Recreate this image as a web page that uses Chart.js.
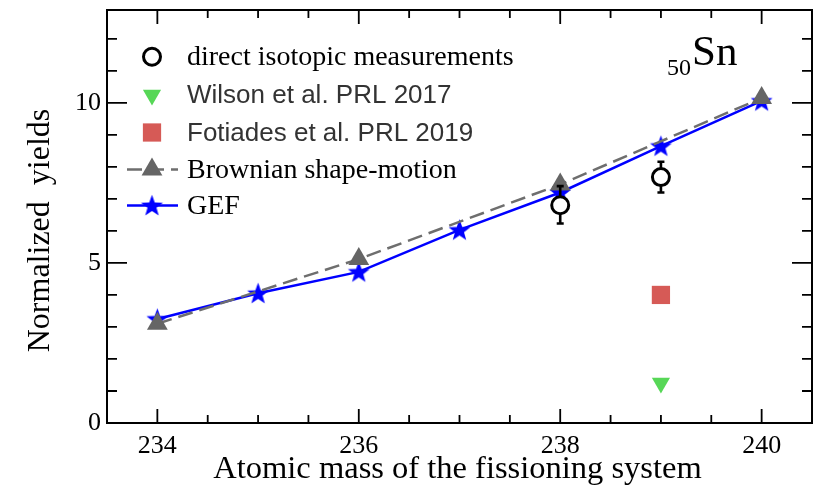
<!DOCTYPE html>
<html>
<head>
<meta charset="utf-8">
<script src="https://cdn.jsdelivr.net/npm/chart.js@4/dist/chart.umd.min.js"></script>
<style>
  html, body { margin: 0; padding: 0; background: #ffffff; }
  #wrap { width: 826px; height: 490px; }
</style>
</head>
<body>
<div id="wrap"><canvas id="c" width="826" height="490"></canvas></div>
<script>
// ---- data ----
const gefMass = [234, 235, 236, 237, 238, 239, 240];
const gefYield = [3.25, 4.05, 4.72, 6.03, 7.2, 8.65, 10.06];

const brownMass = [234, 236, 238, 240];
const brownYield = [3.1, 5.12, 7.45, 10.15];

const measMass = [238, 239];
const measYield = [6.8, 7.68];
const measLow = [6.23, 7.2];
const measHigh = [7.4, 8.16];

const wilsonMass = [239];
const wilsonYield = [1.25];

const fotiadesMass = [239];
const fotiadesYield = [4.0];

const xMajorTicks = [234, 236, 238, 240];
const xMinorTicks = [234.5, 235, 235.5, 236.5, 237, 237.5, 238.5, 239, 239.5];
const yMajorTicks = [0, 5, 10];
const yMinorTicks = [1, 2, 3, 4, 6, 7, 8, 9, 11, 12];

const legendLabels = [
  'direct isotopic measurements',
  'Wilson et al. PRL 2017',
  'Fotiades et al. PRL 2019',
  'Brownian shape-motion',
  'GEF'
];
const xTitle = 'Atomic mass of the fissioning system';
const yTitle = 'Normalized  yields';
const elementZ = '50';
const elementSym = 'Sn';

// ---- helpers ----
const SERIF = '"Liberation Serif", "Times New Roman", Times, serif';
const SANS = '"Liberation Sans", Arial, Helvetica, sans-serif';

function pts(xs, ys) { return xs.map((x, i) => ({ x: x, y: ys[i] })); }

function makeStar(color, R, r) {
  const size = Math.ceil(R * 2 + 2);
  const c = document.createElement('canvas');
  c.width = size; c.height = size;
  const g = c.getContext('2d');
  g.fillStyle = color;
  g.beginPath();
  for (let i = 0; i < 10; i++) {
    const a = -Math.PI / 2 + i * Math.PI / 5;
    const rad = (i % 2) ? r : R;
    const px = size / 2 + rad * Math.cos(a);
    const py = size / 2 + rad * Math.sin(a) + 0.8;
    if (i === 0) g.moveTo(px, py); else g.lineTo(px, py);
  }
  g.closePath();
  g.fill();
  return c;
}
const starImg = makeStar('#0000ff', 11.5, 4.7);

const datasets = [
  {
    label: legendLabels[0],
    data: pts(measMass, measYield),
    showLine: false,
    pointStyle: 'circle',
    pointRadius: 8.5,
    pointBorderWidth: 3,
    pointBorderColor: '#000000',
    pointBackgroundColor: '#ffffff',
    borderColor: '#000000',
    backgroundColor: '#ffffff',
    order: 0
  },
  {
    label: legendLabels[1],
    data: pts(wilsonMass, wilsonYield),
    showLine: false,
    pointStyle: 'triangle',
    rotation: 180,
    pointRadius: 10.5,
    pointBorderWidth: 0,
    pointBackgroundColor: '#57d757',
    backgroundColor: '#57d757',
    borderColor: '#57d757',
    order: 1
  },
  {
    label: legendLabels[2],
    data: pts(fotiadesMass, fotiadesYield),
    showLine: false,
    pointStyle: 'rect',
    pointRadius: 12.9,
    pointBorderWidth: 0,
    pointBackgroundColor: '#d65a56',
    backgroundColor: '#d65a56',
    borderColor: '#d65a56',
    order: 2
  },
  {
    label: legendLabels[3],
    data: pts(brownMass, brownYield),
    showLine: true,
    borderColor: '#6e6e6e',
    borderWidth: 2.5,
    borderDash: [15, 7],
    pointStyle: 'triangle',
    pointRadius: 12,
    pointBorderWidth: 0,
    pointBackgroundColor: '#656565',
    backgroundColor: '#656565',
    tension: 0,
    order: 3
  },
  {
    label: legendLabels[4],
    data: pts(gefMass, gefYield),
    showLine: true,
    borderColor: '#0000ff',
    borderWidth: 2.5,
    pointStyle: starImg,
    pointRadius: 11,
    pointBorderWidth: 0,
    pointBackgroundColor: '#0000ff',
    backgroundColor: '#0000ff',
    tension: 0,
    order: 4
  }
];

// error bars drawn just before the measurement dataset (open circles sit on top)
const errorBarPlugin = {
  id: 'errorBars',
  beforeDatasetDraw(chart, args) {
    if (args.index !== 0) return;
    const ctx = chart.ctx;
    const xs = chart.scales.x, ys = chart.scales.y;
    ctx.save();
    ctx.strokeStyle = '#000000';
    ctx.lineWidth = 2.6;
    measMass.forEach((m, i) => {
      const px = xs.getPixelForValue(m);
      const pLo = ys.getPixelForValue(measLow[i]);
      const pHi = ys.getPixelForValue(measHigh[i]);
      ctx.beginPath();
      ctx.moveTo(px, pLo); ctx.lineTo(px, pHi);
      ctx.moveTo(px - 3.5, pLo); ctx.lineTo(px + 3.5, pLo);
      ctx.moveTo(px - 3.5, pHi); ctx.lineTo(px + 3.5, pHi);
      ctx.stroke();
    });
    ctx.restore();
  }
};

// frame with inward ticks on all four sides
const framePlugin = {
  id: 'frame',
  afterDraw(chart) {
    const ctx = chart.ctx;
    const a = chart.chartArea;
    const xs = chart.scales.x, ys = chart.scales.y;
    ctx.save();
    ctx.strokeStyle = '#000000';
    ctx.lineWidth = 2;
    ctx.strokeRect(a.left, a.top, a.right - a.left, a.bottom - a.top);
    ctx.lineWidth = 1.8;
    ctx.beginPath();
    const xt = (v, len) => {
      const p = xs.getPixelForValue(v);
      ctx.moveTo(p, a.bottom); ctx.lineTo(p, a.bottom - len);
      ctx.moveTo(p, a.top); ctx.lineTo(p, a.top + len);
    };
    const yt = (v, len) => {
      const p = ys.getPixelForValue(v);
      ctx.moveTo(a.left, p); ctx.lineTo(a.left + len, p);
      ctx.moveTo(a.right, p); ctx.lineTo(a.right - len, p);
    };
    xMajorTicks.forEach(v => xt(v, 14));
    xMinorTicks.forEach(v => xt(v, 8));
    yMajorTicks.forEach(v => { if (v !== 0) yt(v, 20); });
    yMinorTicks.forEach(v => yt(v, 10));
    ctx.stroke();
    ctx.restore();
  }
};

function drawMarker(ctx, ds, x, y) {
  const opts = {
    pointStyle: ds.pointStyle,
    rotation: ds.rotation || 0,
    radius: ds.pointRadius,
    borderWidth: ds.pointBorderWidth
  };
  ctx.save();
  ctx.fillStyle = ds.pointBackgroundColor;
  ctx.strokeStyle = ds.pointBorderColor || ds.borderColor;
  ctx.lineWidth = ds.pointBorderWidth;
  Chart.helpers.drawPoint(ctx, opts, x, y);
  ctx.restore();
}

// titles, element label and legend
const annotPlugin = {
  id: 'annot',
  afterDraw(chart) {
    const ctx = chart.ctx;
    const a = chart.chartArea;
    ctx.save();
    ctx.fillStyle = '#000000';

    ctx.font = '32.5px ' + SERIF;
    ctx.textAlign = 'center';
    ctx.textBaseline = 'alphabetic';
    ctx.fillText(xTitle, (a.left + a.right) / 2 - 2, 478);

    ctx.save();
    ctx.translate(a.left - 66, (a.top + a.bottom) / 2 + 14);
    ctx.rotate(-Math.PI / 2);
    ctx.font = '32px ' + SERIF;
    ctx.textAlign = 'center';
    ctx.textBaseline = 'middle';
    ctx.fillText(yTitle, 0, 0);
    ctx.restore();

    ctx.textAlign = 'left';
    ctx.textBaseline = 'alphabetic';
    ctx.font = '43px ' + SERIF;
    const sx = a.right - 120;
    ctx.fillText(elementSym, sx, a.top + 55);
    ctx.textAlign = 'right';
    ctx.font = '24px ' + SERIF;
    ctx.fillText(elementZ, sx - 1, a.top + 65);

    const lx = a.left + 45;
    const tx = a.left + 80;
    const rows = [a.top + 46.7, a.top + 85, a.top + 122.5, a.top + 159.5, a.top + 195.5];
    const fonts = ['28px ' + SERIF, '26px ' + SANS, '26px ' + SANS, '28px ' + SERIF, '28px ' + SERIF];
    const colors = ['#000000', '#333333', '#333333', '#000000', '#000000'];
    chart.data.datasets.forEach((ds, i) => {
      const y = rows[i];
      if (ds.showLine) {
        ctx.save();
        ctx.strokeStyle = ds.borderColor;
        ctx.lineWidth = ds.borderWidth;
        ctx.setLineDash(ds.borderDash || []);
        ctx.beginPath();
        ctx.moveTo(lx - 25, y); ctx.lineTo(lx + 26, y);
        ctx.stroke();
        ctx.restore();
      }
      drawMarker(ctx, ds, lx, y);
      ctx.save();
      ctx.font = fonts[i];
      ctx.fillStyle = colors[i];
      ctx.textAlign = 'left';
      ctx.textBaseline = 'middle';
      ctx.fillText(legendLabels[i], tx, y + 1);
      ctx.restore();
    });
    ctx.restore();
  }
};

new Chart(document.getElementById('c'), {
  type: 'line',
  data: { datasets: datasets },
  options: {
    responsive: false,
    animation: false,
    devicePixelRatio: 1,
    layout: { autoPadding: false, padding: { left: 0, right: 14, top: 10, bottom: 0 } },
    plugins: { legend: { display: false }, tooltip: { enabled: false } },
    scales: {
      x: {
        type: 'linear',
        min: 233.5,
        max: 240.5,
        afterBuildTicks: s => { s.ticks = xMajorTicks.map(v => ({ value: v })); },
        afterFit: s => { s.height = 67; s.paddingLeft = 0; s.paddingRight = 0; },
        grid: { display: false, drawTicks: false },
        border: { display: false },
        ticks: {
          padding: 8,
          color: '#000000',
          font: { family: SERIF, size: 26 },
          maxRotation: 0,
          callback: v => String(v)
        }
      },
      y: {
        type: 'linear',
        min: 0,
        max: 12.9,
        afterBuildTicks: s => { s.ticks = yMajorTicks.map(v => ({ value: v })); },
        afterFit: s => { s.width = 107; s.paddingTop = 0; s.paddingBottom = 0; },
        grid: { display: false, drawTicks: false },
        border: { display: false },
        ticks: {
          padding: 6,
          color: '#000000',
          font: { family: SERIF, size: 26 },
          callback: v => String(v)
        }
      }
    }
  },
  plugins: [errorBarPlugin, framePlugin, annotPlugin]
});
</script>
</body>
</html>
